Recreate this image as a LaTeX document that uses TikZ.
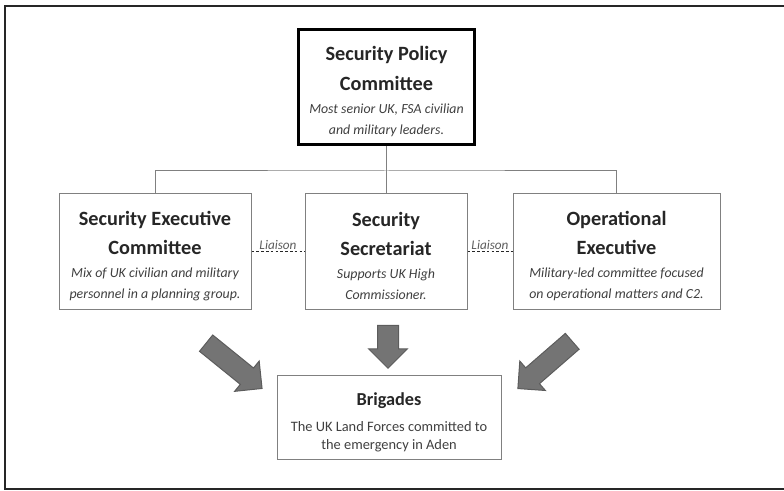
\documentclass[tikz,border=0pt]{standalone}
\usepackage{fontspec}
\setmainfont{Carlito}
\usetikzlibrary{shapes.arrows}

\definecolor{boxline}{HTML}{808080}
\definecolor{titlecol}{HTML}{262626}
\definecolor{desccol}{HTML}{3F3F3F}
\definecolor{arrowfill}{HTML}{747474}
\definecolor{arrowedge}{HTML}{5C5C5C}

% two title lines, two description lines
\newcommand\unittext[4]{%
  {\fontsize{15.2}{22}\selectfont\bfseries\color{titlecol}\rule{0pt}{17.5pt}#1}\\[6.25pt]%
  {\fontsize{15.2}{22}\selectfont\bfseries\color{titlecol}#2}\\[1.75pt]%
  {\itshape\color{desccol}#3}\\%
  {\itshape\color{desccol}#4}}

\tikzset{
  unit/.style={draw=boxline, line width=0.75pt, align=center, inner sep=2pt, minimum height=86.25pt, font=\fontsize{10.4}{15.75}\selectfont},
  topunit/.style={unit, draw=black, line width=2.5pt},
  link/.style={draw=boxline, line width=0.75pt},
  liaison/.style={draw=titlecol, line width=0.6pt, dash pattern=on 2pt off 1.6pt},
  liaisonlabel/.style={above, inner sep=1pt, font=\fontsize{9.9}{12}\selectfont\itshape, text=desccol!85},
  bigarrow/.style={single arrow, draw=arrowedge, fill=arrowfill, line width=0.75pt, inner xsep=0pt, inner ysep=7.5pt, single arrow head extend=6.75pt}
}

\begin{document}
\begin{tikzpicture}[x=0.75pt, y=-0.75pt]

    \useasboundingbox (0,0) rectangle (784,491);
    \clip (0,0) rectangle (784,491);
    \draw[titlecol, line width=1.5pt] (4.5,6) rectangle (800,489);

    \node[topunit, minimum width=132pt] (spc) at (386.5,87)
        {\unittext{Security Policy}{Committee}{Most senior UK, FSA civilian}{and military leaders.}};

    \node[unit, minimum width=144pt] (sec) at (155,251.5)
        {\unittext{Security Executive}{Committee}{Mix of UK civilian and military}{personnel in a planning group.}};
    \node[unit, minimum width=121.5pt] (ss) at (386,251.5)
        {\unittext{Security}{Secretariat}{Supports UK High}{Commissioner.}};
    \node[unit, minimum width=155.25pt] (oe) at (616.5,251.5)
        {\unittext{Operational}{Executive}{Military-led committee focused}{on operational matters and C2.}};

    \node[unit, minimum width=168pt, minimum height=63pt, font=\fontsize{10.8}{13.5}\selectfont] (brig) at (389,417)
        {{\fontsize{13.7}{20}\selectfont\bfseries\color{titlecol}\rule{0pt}{17pt}Brigades}\\[6pt]{\color{desccol}The UK Land Forces committed to}\\{\color{desccol}the emergency in Aden}};

    \coordinate (bus) at (386.5,171);
    \draw[link] (spc.south) -- (bus);
    \draw[link] (sec.north) |- (bus) -| (oe.north);
    \draw[link] (ss.north) -- (ss.north |- bus);

    \draw[liaison] (sec) -- node[liaisonlabel] {Liaison} (ss);
    \draw[liaison] (ss) -- node[liaisonlabel] {Liaison} (oe);

    \node[bigarrow, minimum height=54pt, rotate=-39] (arrl) at (230,362.5) {};
    \node[bigarrow, minimum height=32.25pt, rotate=-90] (arrm) at (388,341.5) {};
    \node[bigarrow, minimum height=54pt, rotate=-139] (arrr) at (549,361.5) {};

\end{tikzpicture}
\end{document}
